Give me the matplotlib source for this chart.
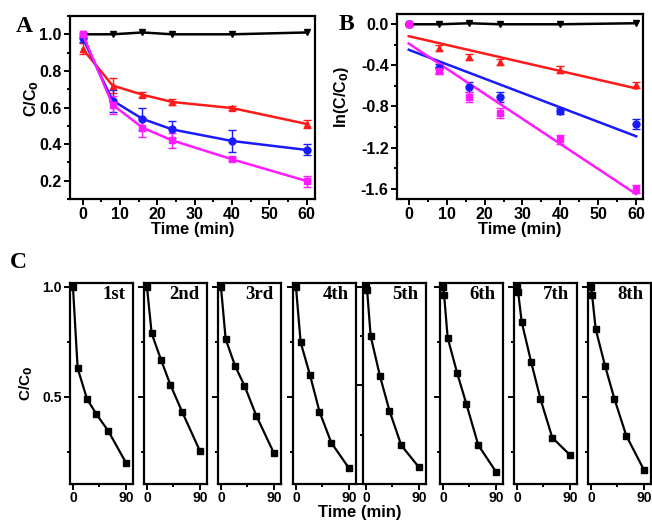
import numpy as np
import matplotlib
matplotlib.use("Agg")
import matplotlib.pyplot as plt
from matplotlib.ticker import MultipleLocator, NullFormatter

plt.rcParams['font.family'] = ['Liberation Sans', 'DejaVu Sans']
plt.rcParams['font.weight'] = 'bold'
plt.rcParams['axes.labelweight'] = 'bold'
plt.rcParams['mathtext.default'] = 'bf'

# panel A: C/C0 vs time
time = [0, 8, 16, 24, 40, 60]
black_a = [1.0, 1.0, 1.01, 1.0, 1.0, 1.01]
red_a = [0.92, 0.72, 0.67, 0.63, 0.597, 0.51]
red_a_err = [0.03, 0.04, 0.015, 0.015, 0.01, 0.02]
blue_a = [0.98, 0.638, 0.538, 0.48, 0.417, 0.368]
blue_a_err = [0.02, 0.06, 0.06, 0.045, 0.06, 0.03]
mag_a = [1.0, 0.615, 0.49, 0.42, 0.317, 0.198]
mag_a_err = [0.01, 0.05, 0.05, 0.04, 0.01, 0.03]

# panel B: ln(C/C0) vs time
black_b = [0.0, 0.0, 0.01, 0.0, 0.0, 0.01]
red_b = [0.0, -0.234, -0.315, -0.37, -0.44, -0.59]
red_b_err = [0.01, 0.03, 0.03, 0.03, 0.03, 0.03]
blue_b = [0.0, -0.43, -0.61, -0.71, -0.845, -0.97]
blue_b_err = [0.01, 0.04, 0.05, 0.05, 0.03, 0.05]
mag_b = [0.0, -0.45, -0.705, -0.86, -1.12, -1.605]
mag_b_err = [0.01, 0.03, 0.05, 0.05, 0.04, 0.04]

# panel C: 8 recycling runs
run_labels = ['1st', '2nd', '3rd', '4th', '5th', '6th', '7th', '8th']
run_times = [
    [0, 8, 24, 40, 60, 90],
    [0, 8, 24, 40, 60, 90],
    [0, 8, 24, 40, 60, 90],
    [0, 8, 24, 40, 60, 90],
    [0, 2, 8, 24, 40, 60, 90],
    [0, 2, 8, 24, 40, 60, 90],
    [0, 2, 8, 24, 40, 60, 90],
    [0, 2, 8, 24, 40, 60, 90],
]
run_values = [
    [1.0, 0.629, 0.489, 0.42, 0.344, 0.20],
    [1.0, 0.788, 0.667, 0.553, 0.43, 0.253],
    [1.0, 0.762, 0.64, 0.55, 0.414, 0.243],
    [1.0, 0.747, 0.597, 0.432, 0.291, 0.175],
    [1.0, 0.983, 0.75, 0.545, 0.371, 0.196, 0.085],
    [1.0, 0.962, 0.768, 0.609, 0.465, 0.28, 0.159],
    [1.0, 0.977, 0.841, 0.659, 0.489, 0.314, 0.235],
    [1.0, 0.962, 0.808, 0.64, 0.489, 0.323, 0.167],
]
run_ylims = [(0.103, 1.017)] * 4 + [(0.0, 1.019)] + [(0.103, 1.017)] * 3

RED = '#ff1a1a'
BLUE = '#1a1aff'
MAG = '#ff1aff'

W, H = 652, 525
fig = plt.figure(figsize=(W / 100, H / 100), dpi=100)


def frac(x0, y0, x1, y1):
    return [x0 / W, 1 - y1 / H, (x1 - x0) / W, (y1 - y0) / H]


def style(ax, size=11.5):
    for s in ax.spines.values():
        s.set_linewidth(1.6)
    ax.tick_params(which='both', direction='out', width=1.4, labelsize=size)
    ax.tick_params(which='major', length=4, pad=2)
    ax.tick_params(which='minor', length=2.5)


eb = dict(capsize=3, elinewidth=1.0, capthick=1.0, markersize=5, lw=1.8)

# ---- A ----
axA = fig.add_axes(frac(70, 16, 315, 199))
axA.plot(time, black_a, color='black', marker='v', markersize=5, lw=1.8)
axA.errorbar(time, red_a, yerr=red_a_err, color=RED, marker='^', **eb)
axA.errorbar(time, blue_a, yerr=blue_a_err, color=BLUE, marker='o', **eb)
axA.errorbar(time, mag_a, yerr=mag_a_err, color=MAG, marker='s', **eb)
axA.set_xlim(-3.4, 62.2)
axA.set_ylim(0.1, 1.1)
axA.xaxis.set_major_locator(MultipleLocator(10))
axA.xaxis.set_minor_locator(MultipleLocator(5))
axA.yaxis.set_major_locator(MultipleLocator(0.2))
axA.yaxis.set_minor_locator(MultipleLocator(0.1))
style(axA)
axA.set_xlabel('Time (min)', fontsize=12, labelpad=0)
axA.xaxis.set_label_coords(0.5, -0.125)
axA.set_ylabel('C/C$_0$', fontsize=11.5)
axA.yaxis.set_label_coords(-0.12, 0.55)
fig.text(24 / W, 1 - 26 / H, 'A', fontsize=17, fontweight='bold',
         family='Liberation Serif', ha='center', va='center')

# ---- B ----
axB = fig.add_axes(frac(397, 14, 643, 199))
axB.plot(time, black_b, color='black', marker='v', markersize=5, lw=1.8)
for ys, err, c, m in [(red_b, red_b_err, RED, '^'),
                      (blue_b, blue_b_err, BLUE, 'o'),
                      (mag_b, mag_b_err, MAG, 's')]:
    k, b = np.polyfit(time, ys, 1)
    xx = np.array([0, 60])
    axB.plot(xx, k * xx + b, color=c, lw=1.8)
    axB.errorbar(time, ys, yerr=err, color=c, marker=m, ls='none',
                 capsize=3, elinewidth=1.0, capthick=1.0, markersize=5)
axB.set_xlim(-3.1, 61.8)
axB.set_ylim(-1.70, 0.10)
axB.xaxis.set_major_locator(MultipleLocator(10))
axB.xaxis.set_minor_locator(MultipleLocator(5))
axB.yaxis.set_major_locator(MultipleLocator(0.4))
axB.yaxis.set_minor_locator(MultipleLocator(0.2))
axB.yaxis.set_major_formatter(plt.FuncFormatter(lambda v, p: f'{v:.1f}'.replace('-0.0', '0.0')))
style(axB)
axB.set_xlabel('Time (min)', fontsize=12, labelpad=0)
axB.xaxis.set_label_coords(0.5, -0.125)
axB.set_ylabel('ln(C/C$_0$)', fontsize=11.5)
axB.yaxis.set_label_coords(-0.185, 0.55)
fig.text(346 / W, 1 - 24 / H, 'B', fontsize=17, fontweight='bold',
         family='Liberation Serif', ha='center', va='center')

# ---- C ----
lefts = [70, 144, 218, 293, 363, 440, 514, 588]
for i, (lab, tx, vals, yl) in enumerate(zip(run_labels, run_times, run_values, run_ylims)):
    ax = fig.add_axes(frac(lefts[i], 283, lefts[i] + 63, 484))
    ax.plot(tx, vals, color='black', marker='s', markersize=5, lw=1.6)
    ax.set_xlim(-5, 102)
    ax.set_ylim(*yl)
    ax.set_xticks([0, 90])
    ax.set_xticks([45], minor=True)
    ax.yaxis.set_major_locator(MultipleLocator(0.5))
    ax.yaxis.set_minor_locator(MultipleLocator(0.25))
    style(ax, size=10)
    ax.tick_params(axis='x', pad=1)
    if i > 0:
        ax.yaxis.set_major_formatter(NullFormatter())
    ax.text(0.88, 0.985, lab, transform=ax.transAxes, ha='right', va='top',
            fontsize=13.5, fontweight='bold', family='Liberation Serif')
    if i == 0:
        ax.set_ylabel('C/C$_0$', fontsize=11)
        ax.yaxis.set_label_coords(-0.56, 0.5)

fig.text(360 / W, 1 - 513 / H, 'Time (min)', fontsize=12, fontweight='bold',
         ha='center', va='center')
fig.text(18 / W, 1 - 262 / H, 'C', fontsize=17, fontweight='bold',
         family='Liberation Serif', ha='center', va='center')

fig.savefig('out.png', dpi=100)
